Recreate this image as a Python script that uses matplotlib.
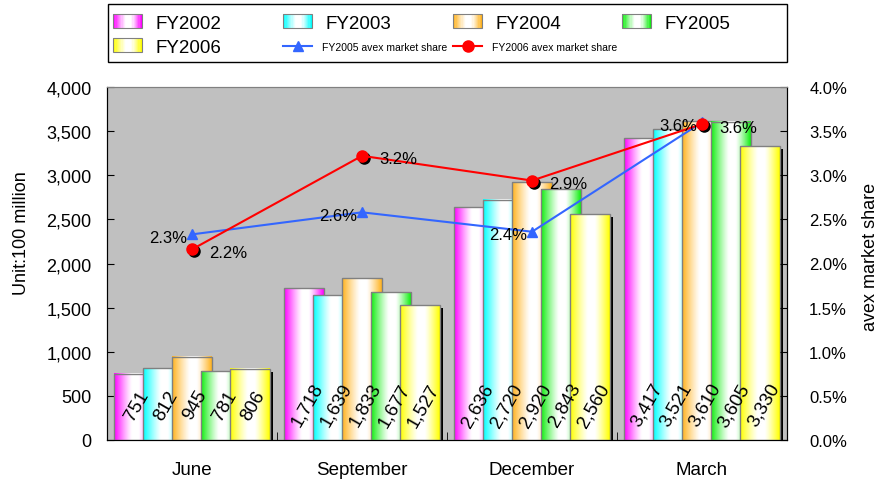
import numpy as np
import matplotlib
matplotlib.use("Agg")
import matplotlib.pyplot as plt
from matplotlib.patches import Rectangle
from matplotlib.legend_handler import HandlerBase
from matplotlib.transforms import ScaledTranslation
from matplotlib.colors import to_rgb

plt.rcParams['font.family'] = ['Liberation Sans', 'DejaVu Sans']

months = ['June', 'September', 'December', 'March']
years = ['FY2002', 'FY2003', 'FY2004', 'FY2005', 'FY2006']
fy2002 = [751, 1718, 2636, 3417]
fy2003 = [812, 1639, 2720, 3521]
fy2004 = [945, 1833, 2920, 3610]
fy2005 = [781, 1677, 2843, 3605]
fy2006 = [806, 1527, 2560, 3330]
share_fy2005 = [2.33, 2.58, 2.36, 3.60]   # avex market share, %
share_fy2006 = [2.16, 3.22, 2.94, 3.58]
share_names = ['FY2005 avex market share', 'FY2006 avex market share']

colors = ['#FF00FF', '#00FFFF', '#FFB21E', '#11EE11', '#FFFF00']


def fade(color, n=64):
    # colour at both edges, white towards the middle
    t = np.linspace(0, 1, n)
    w = np.interp(t, [0, 0.45, 0.62, 1], [1, 0, 0, 1]) ** 1.2
    c = np.array(to_rgb(color))
    return w[:, None] * c + (1 - w[:, None])


class FadeSwatch(HandlerBase):
    def __init__(self, color):
        super().__init__()
        self.color = color

    def create_artists(self, legend, orig_handle, xdescent, ydescent,
                       width, height, fontsize, trans):
        n = 24
        strip = fade(self.color, n)
        arts = []
        for i, c in enumerate(strip):
            arts.append(Rectangle((-xdescent + i * width / n, -ydescent),
                                  width / n * 1.05, height, facecolor=c,
                                  edgecolor='none', antialiased=False,
                                  transform=trans))
        arts.append(Rectangle((-xdescent, -ydescent), width, height,
                              facecolor='none', edgecolor='#808080',
                              lw=0.8, transform=trans))
        return arts


fig = plt.figure(figsize=(8.82, 4.81), dpi=100)
ax = fig.add_axes([107 / 882, 40 / 481, 680 / 882, 353 / 481])
ax.set_facecolor('#C0C0C0')

x = np.arange(len(months))
step, width = 0.171, 0.235
series = [fy2002, fy2003, fy2004, fy2005, fy2006]
shift = ScaledTranslation(3 / 100, -3 / 100, fig.dpi_scale_trans)

containers = []
for i, vals in enumerate(series):
    z = 3 + i
    bars = ax.bar(x + (i - 2) * step, vals, width, facecolor='none',
                  edgecolor='#808080', lw=1, zorder=z)
    for b, v in zip(bars, vals):
        x0, w, h = b.get_x(), b.get_width(), b.get_height()
        ax.imshow(fade(colors[i])[None], extent=(x0, x0 + w, 0, h),
                  aspect='auto', interpolation='bilinear', zorder=z - 0.1)
        if i == len(series) - 1:
            ax.add_patch(Rectangle((x0, 0), w, h, facecolor='black',
                                   edgecolor='none', zorder=z - 0.2,
                                   transform=ax.transData + shift))
        ax.text(x0 + w / 2 + 0.02, 400, f'{v:,}', rotation=60, ha='center',
                va='center', fontsize=13.5, zorder=20)
    containers.append(bars)

ax.set_xlim(-0.5, 3.5)
ax.set_ylim(0, 4000)
ax.set_yticks(np.arange(0, 4001, 500))
ax.set_yticklabels([f'{int(v):,}' for v in np.arange(0, 4001, 500)])
ax.set_xticks(x, months)
ax.set_xticks(x[:-1] + 0.5, minor=True)
ax.tick_params(axis='x', which='major', length=0, pad=15, labelsize=13.5)
ax.tick_params(axis='x', which='minor', direction='in', length=6)
ax.tick_params(axis='y', direction='in', length=5, pad=11, labelsize=13)
ax.set_ylabel('Unit:100 million', fontsize=13)
ax.yaxis.set_label_coords(-0.113, 0.589)

ax2 = ax.twinx()
ax2.set_ylim(0, 4)
pct = np.arange(0, 4.01, 0.5)
ax2.set_yticks(pct)
ax2.set_yticklabels([f'{v:.1f}%' for v in pct])
ax2.tick_params(axis='y', direction='in', length=5, pad=16, labelsize=12)
ax2.set_ylabel('avex market share', fontsize=13)
ax2.yaxis.set_label_coords(1.11, 0.521)

blue, = ax2.plot(x, share_fy2005, color='#3366FF', lw=1.5, marker='^',
                 ms=7, zorder=5)
ax2.plot(x, share_fy2006, 'o', color='black', ms=8, zorder=5.5,
         transform=ax2.transData + ScaledTranslation(2 / 100, -2 / 100,
                                                      fig.dpi_scale_trans))
red, = ax2.plot(x, share_fy2006, color='red', lw=1.5, marker='o', ms=8,
                zorder=6)

for xi, v in zip(x, share_fy2005):
    ax2.annotate(f'{v:.1f}%', (xi, v), xytext=(-5, -3),
                 textcoords='offset pixels', ha='right', va='center',
                 fontsize=12, zorder=7)
for xi, v in zip(x, share_fy2006):
    ax2.annotate(f'{v:.1f}%', (xi, v), xytext=(17, -3),
                 textcoords='offset pixels', ha='left', va='center',
                 fontsize=12, zorder=7)

for a in (ax, ax2):
    a.spines['top'].set_color('#808080')
    a.spines['left'].set_color('black')
    a.spines['right'].set_color('black')
    a.spines['bottom'].set_color('black')

# legend: boxed, four columns, two rows
fig.add_artist(Rectangle((108 / 882, 1 - 63 / 481), 679 / 882, 58 / 481,
                         transform=fig.transFigure, facecolor='white',
                         edgecolor='black', lw=1))
big = dict(fontsize=13.5, handlelength=1.55, handleheight=0.75,
           handletextpad=0.7)
small = dict(fontsize=7.5, handlelength=2.8, handleheight=1.2,
             handletextpad=0.96)
entries = [(containers[0], years[0], big, 113, 24),
           (containers[1], years[1], big, 283, 24),
           (containers[2], years[2], big, 453, 24),
           (containers[3], years[3], big, 622, 24),
           (containers[4], years[4], big, 113, 48),
           (blue, share_names[0], small, 283, 48),
           (red, share_names[1], small, 453, 48)]
for k, (h, lab, style, px, py) in enumerate(entries):
    hmap = {h: FadeSwatch(colors[k])} if k < 5 else None
    fig.legend([h], [lab], loc='center left',
               bbox_to_anchor=(px / 882, 1 - py / 481), frameon=False,
               borderpad=0, borderaxespad=0, handler_map=hmap, **style)

fig.savefig('out.png', dpi=100)
